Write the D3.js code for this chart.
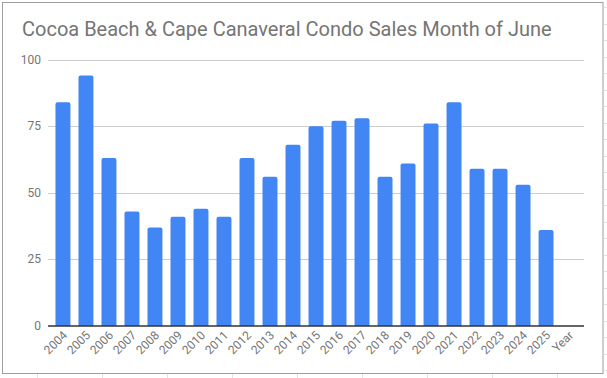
<!DOCTYPE html>
<html>
<head>
<meta charset="utf-8">
<script src="https://cdn.jsdelivr.net/npm/d3@7"></script>
<style>
  body { margin: 0; background: #fff; }
  text { font-family: Roboto, "Noto Sans", sans-serif; }
</style>
</head>
<body>
<div id="chart"></div>
<script>
// chart data
const years = ["2004", "2005", "2006", "2007", "2008", "2009", "2010", "2011", "2012", "2013", "2014",
  "2015", "2016", "2017", "2018", "2019", "2020", "2021", "2022", "2023", "2024", "2025", "Year"];
const sales = [84, 94, 63, 43, 37, 41, 44, 41, 63, 56, 68, 75, 77, 78, 56, 61, 76, 84, 59, 59, 53, 36, null];
const yTicks = [0, 25, 50, 75, 100];
const title = "Cocoa Beach & Cape Canaveral Condo Sales Month of June";

const width = 607, height = 378;
const plotLeft = 48, plotRight = 584, plotTop = 59.5, plotBottom = 326;

const svg = d3.select("#chart").append("svg")
    .attr("width", width)
    .attr("height", height);

// faint spreadsheet cell lines around the embedded chart
const sheet = svg.append("g").attr("stroke", "#e3e3e3").attr("stroke-width", 1);
d3.range(37, width, 65).forEach(x => {
  sheet.append("line").attr("x1", x + 0.5).attr("x2", x + 0.5).attr("y1", 374).attr("y2", height);
});
d3.range(7, height, 16.5).forEach(y => {
  sheet.append("line").attr("x1", 604).attr("x2", width).attr("y1", Math.round(y) + 0.5).attr("y2", Math.round(y) + 0.5);
});

// chart frame
svg.append("rect")
    .attr("x", 2.5).attr("y", 2.5)
    .attr("width", 600.5).attr("height", 371)
    .attr("fill", "#fff")
    .attr("stroke", "#9e9e9e")
    .attr("stroke-width", 1);

svg.append("text")
    .attr("x", 22).attr("y", 36)
    .attr("fill", "#757575")
    .attr("font-size", 20)
    .text(title);

const data = years.map((y, i) => ({year: y, value: sales[i]}));

const x = d3.scaleBand()
    .domain(years)
    .range([plotLeft, plotRight])
    .paddingInner(0.35)
    .paddingOuter(0.325);

const y = d3.scaleLinear()
    .domain([0, 100])
    .range([plotBottom, plotTop]);

// gridlines and y labels
const grid = svg.append("g");
grid.selectAll("line")
  .data(yTicks.filter(d => d > 0))
  .join("line")
    .attr("x1", plotLeft).attr("x2", plotRight)
    .attr("y1", d => Math.round(y(d)) + 0.5)
    .attr("y2", d => Math.round(y(d)) + 0.5)
    .attr("stroke", "#cccccc");

grid.selectAll("text")
  .data(yTicks)
  .join("text")
    .attr("x", 41)
    .attr("y", d => y(d) + 4)
    .attr("text-anchor", "end")
    .attr("font-size", 12)
    .attr("fill", "#757575")
    .text(d => d);

// bars with rounded tops
const r = 2;
svg.append("g")
  .selectAll("path")
  .data(data.filter(d => d.value != null))
  .join("path")
    .attr("fill", "#4285f4")
    .attr("d", d => {
      const x0 = x(d.year), w = x.bandwidth(), y0 = y(d.value), y1 = y(0);
      return `M${x0},${y1}V${y0 + r}Q${x0},${y0} ${x0 + r},${y0}H${x0 + w - r}Q${x0 + w},${y0} ${x0 + w},${y0 + r}V${y1}Z`;
    });

// baseline
svg.append("line")
    .attr("x1", plotLeft).attr("x2", plotRight)
    .attr("y1", y(0)).attr("y2", y(0))
    .attr("stroke", "#333")
    .attr("stroke-width", 1.5);

// rotated x labels
svg.append("g")
  .selectAll("text")
  .data(years)
  .join("text")
    .attr("transform", d => `translate(${x(d) + x.bandwidth() / 2 + 5},${y(0) + 10}) rotate(-45)`)
    .attr("text-anchor", "end")
    .attr("font-size", 12)
    .attr("fill", "#757575")
    .text(d => d);
</script>
</body>
</html>
